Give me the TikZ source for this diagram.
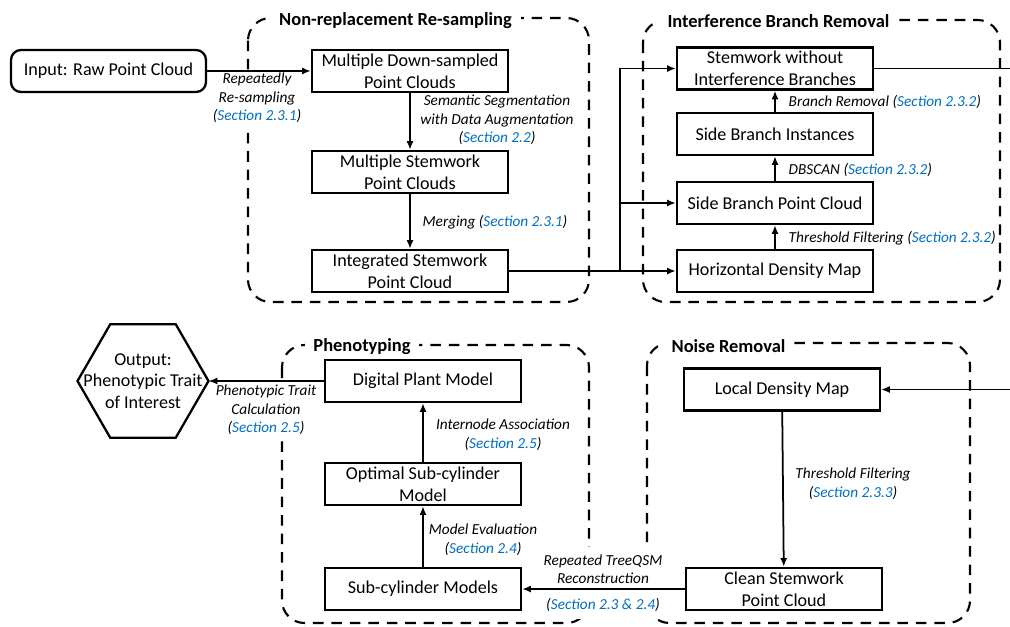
\documentclass[tikz,border=0pt]{standalone}
\usepackage{fontspec}
\setmainfont{Carlito}
\usetikzlibrary{arrows.meta,shapes.geometric}
\definecolor{secblue}{RGB}{0,112,192}
\newcommand{\secn}[1]{(\textcolor{secblue}{Section #1})}

\begin{document}
\begin{tikzpicture}[
  box/.style={draw, line width=1.3pt, minimum width=3.92cm, minimum height=0.84cm,
    inner xsep=2pt, inner ysep=0pt, align=center, font=\fontsize{10.3}{12.3}\selectfont},
  lbl/.style={fill=white, inner sep=1pt, align=center, font=\fontsize{8.7}{10.6}\selectfont\itshape},
  grp/.style={draw, dash pattern=on 6pt off 4.5pt, line width=1.2pt, rounded corners=0.45cm},
  grptitle/.style={fill=white, inner xsep=5pt, inner ysep=1pt, font=\fontsize{10.5}{12}\selectfont\bfseries},
  arr/.style={-{Latex[length=5pt,width=4pt]}, line width=1pt},
  conn/.style={line width=1pt}]
\useasboundingbox (0,0) rectangle (20.2,-12.52);

% group frames
\draw[grp] (4.96,-0.36) rectangle (11.78,-6.04);
\draw[grp] (12.86,-0.40) rectangle (20.0,-6.04);
\draw[grp] (5.64,-6.9) rectangle (11.78,-12.46);
\draw[grp] (12.94,-6.86) rectangle (19.4,-12.46);
\node[grptitle] (t1) at (7.91,-0.42) {Non-replacement Re-sampling};
\node[grptitle] (t2) at (15.57,-0.42) {Interference Branch Removal};
\node[grptitle] (t3) at (7.24,-6.94) {Phenotyping};
\node[grptitle] (t4) at (14.57,-6.92) {Noise Removal};

% edge labels
\node[lbl] (l1) at (5.14,-1.96) {Repeatedly\\Re-sampling\\\secn{2.3.1}};
\node[lbl] (l2) at (9.94,-2.40) {Semantic Segmentation\\with Data Augmentation\\\secn{2.2}};
\node[lbl] (l3) at (9.9,-4.44) {Merging \secn{2.3.1}};
\node[lbl, anchor=west, inner sep=0.5pt] (l4) at (15.75,-2.04) {Branch Removal \secn{2.3.2}};
\node[lbl, anchor=west, inner sep=0.5pt] (l5) at (15.75,-3.40) {DBSCAN \secn{2.3.2}};
\node[lbl, anchor=west, inner sep=0.5pt] (l6) at (15.75,-4.76) {Threshold Filtering \secn{2.3.2}};
\node[lbl] (l7) at (5.32,-8.2) {Phenotypic Trait\\Calculation\\\secn{2.5}};
\node[lbl] (l8) at (10.06,-8.69) {Internode Association\\\secn{2.5}};
\node[lbl] (l9) at (9.66,-10.79) {Model Evaluation\\\secn{2.4}};
\node[lbl, inner ysep=4pt] (l10) at (12.06,-11.66) {Repeated TreeQSM\\Reconstruction\\[4pt]\secn{2.3 \& 2.4}};
\node[lbl] (l11) at (17.06,-9.67) {Threshold Filtering\\\secn{2.3.3}};

% boxes
\node[box, rounded corners=0.2cm, minimum width=3.9cm] (inp) at (2.17,-1.42) {Input: Raw Point Cloud};
\node[box] (down) at (8.2,-1.42) {Multiple Down-sampled\\Point Clouds};
\node[box] (mstem) at (8.2,-3.44) {Multiple Stemwork\\Point Clouds};
\node[box] (integ) at (8.2,-5.42) {Integrated Stemwork\\Point Cloud};
\node[box] (stem) at (15.5,-1.37) {Stemwork without\\Interference Branches};
\node[box] (sbi) at (15.5,-2.68) {Side Branch Instances};
\node[box] (sbpc) at (15.5,-4.06) {Side Branch Point Cloud};
\node[box] (hdm) at (15.5,-5.42) {Horizontal Density Map};
\node[box] (ldm) at (15.64,-7.79) {Local Density Map};
\node[box] (clean) at (15.68,-11.78) {Clean Stemwork\\Point Cloud};
\node[box] (dpm) at (8.46,-7.62) {Digital Plant Model};
\node[box] (opt) at (8.46,-9.68) {Optimal Sub-cylinder\\Model};
\node[box] (sub) at (8.46,-11.78) {Sub-cylinder Models};
\node[draw, line width=1.3pt, regular polygon, regular polygon sides=6, minimum size=2.62cm,
  inner sep=0pt, outer sep=0pt] (outp) at (2.86,-7.62) {};
\node[align=center, font=\fontsize{10.3}{12.3}\selectfont] (outt) at (outp) {Output:\\Phenotypic Trait\\of Interest};

% connectors
\coordinate (jn) at (12.4,-5.42);
\coordinate (rout) at (20.3,-1.37);
\coordinate (rin) at (20.3,-7.79);
\draw[arr] (inp) -- (down);
\draw[arr] (down) -- (mstem);
\draw[arr] (mstem) -- (integ);
\draw[arr] (integ) -- (hdm);
\draw[arr] (jn) |- (sbpc);
\draw[arr] (jn) |- (stem);
\draw[arr] (hdm) -- (sbpc);
\draw[arr] (sbpc) -- (sbi);
\draw[arr] (sbi) -- (stem);
\draw[conn] (stem) -- (rout);
\draw[arr] (rin) -- (ldm);
\draw[arr] (ldm) -- (clean);
\draw[arr] (clean) -- (sub);
\draw[arr] (sub) -- (opt);
\draw[arr] (opt) -- (dpm);
\draw[arr] (dpm) -- (outp.east);
\end{tikzpicture}
\end{document}
